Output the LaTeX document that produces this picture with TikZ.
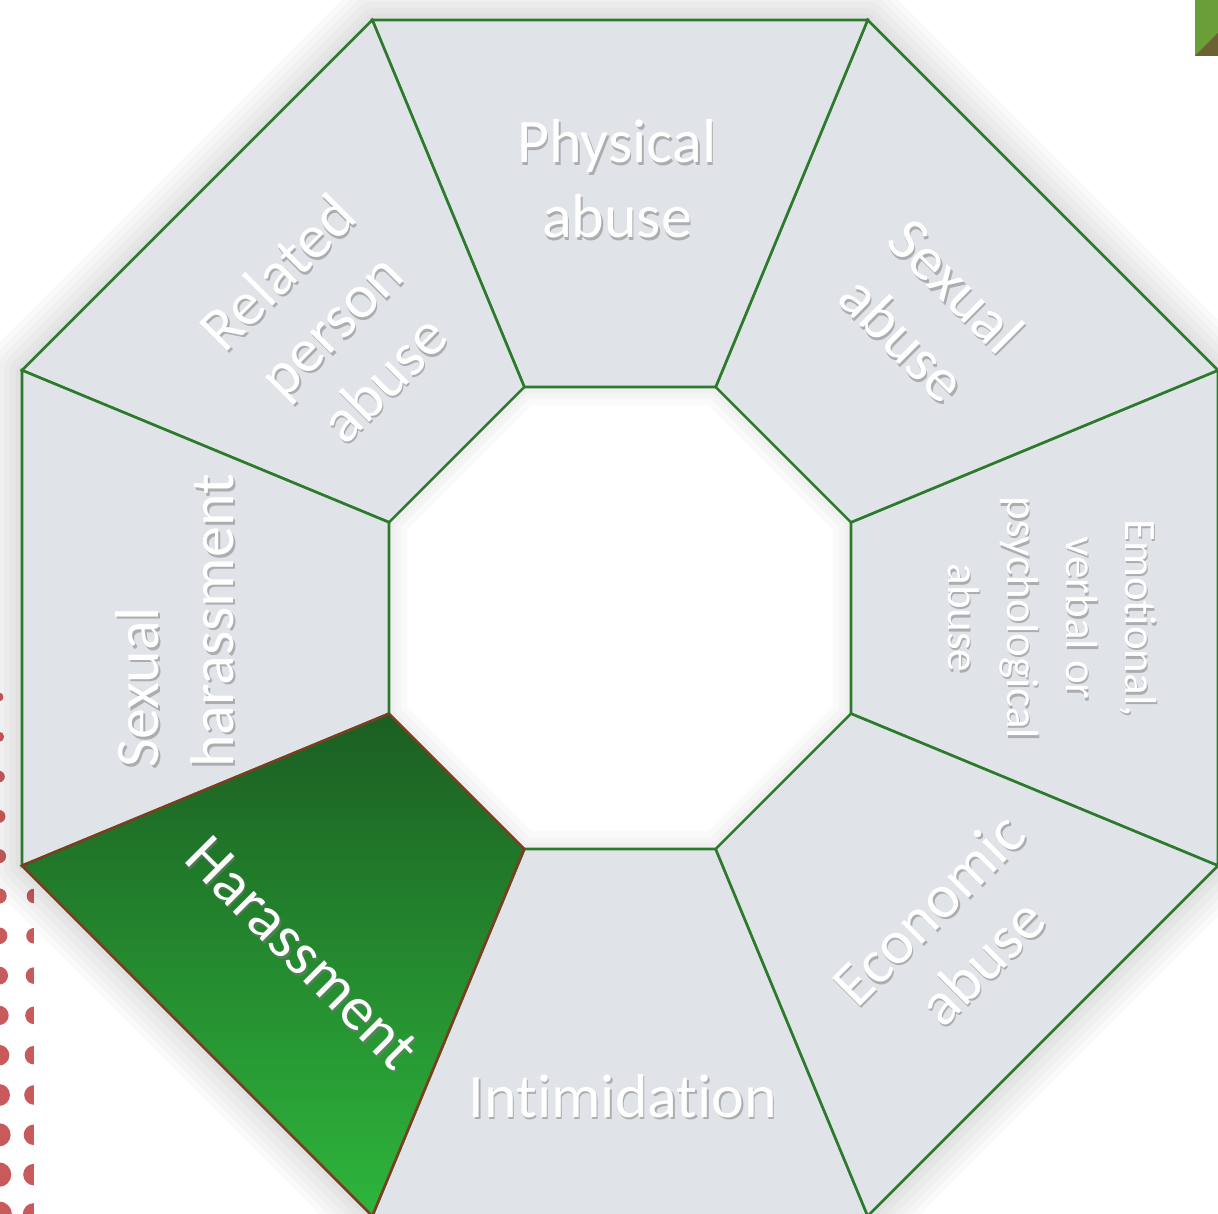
\documentclass[tikz,border=0pt]{standalone}
\usepackage{fontspec}
\setmainfont{Carlito}[Ligatures = {NoCommon, NoContextual}, Contextuals = NoAlternate]
\usetikzlibrary{calc}

\definecolor{segfill}{RGB}{224,227,231}
\definecolor{segline}{RGB}{44,122,44}
\definecolor{harline}{RGB}{122,62,32}
\definecolor{hartop}{RGB}{27,94,34}
\definecolor{harbot}{RGB}{46,182,60}
\definecolor{dotred}{RGB}{201,90,92}
\definecolor{cornergreen}{RGB}{106,158,54}
\definecolor{cornerbrown}{RGB}{107,98,52}
\definecolor{txtshadow}{RGB}{120,120,120}

\tikzset{
	seg/.style = {fill = segfill, draw = segline, line width = 2.6pt, line join = miter},
	glow/.style = {black, line join = round},
	lbl/.style = {text = white, align = center, inner sep = 0pt},
	lblshadow/.style = {text = txtshadow, opacity = .5, align = center, inner sep = 0pt},
}

\newcommand{\Rout}{647.3}
\newcommand{\Rin}{250}
\newcommand{\seglabel}[6][center]{%
	\node (#2-sh) at ($(#3)+(1.5,-2.5)$) [lblshadow, align = #1, rotate = #4, font = #5] {#6};
	\node (#2) at (#3) [lbl, align = #1, rotate = #4, font = #5] {#6};}

\begin{document}
\begin{tikzpicture}[x = 1pt, y = 1pt]
		\useasboundingbox (-620,-596) rectangle (598,618);
		\clip (-620,-596) rectangle (598,618);
		
		\foreach \k in {0,...,13}
			\fill [dotred] (-621,{-79-39.8*\k}) circle ({4.5+0.65*\k});
		\begin{scope}
			\clip (-620,-596) rectangle (-586,-200);
			\foreach \k in {5,...,13}
				\fill [dotred] (-586,{-79-39.8*\k}) circle ({7.3+0.5*(\k-5)});
		\end{scope}
		
		\fill [cornergreen] (575,562) rectangle (598,618);
		\fill [cornerbrown] (575,562) -- (598,562) -- (598,585) -- cycle;
		
		\foreach \w in {72,60,48,36,24,12}
			\draw [glow, opacity = .018, line width = \w pt]
				(22.5:\Rout) -- (67.5:\Rout) -- (112.5:\Rout) -- (157.5:\Rout) -- (202.5:\Rout)
				-- (247.5:\Rout) -- (292.5:\Rout) -- (337.5:\Rout) -- cycle;
		\begin{scope}
			\clip (22.5:\Rin) -- (67.5:\Rin) -- (112.5:\Rin) -- (157.5:\Rin) -- (202.5:\Rin)
				-- (247.5:\Rin) -- (292.5:\Rin) -- (337.5:\Rin) -- cycle;
			\foreach \w in {36,24,12}
				\draw [glow, opacity = .02, line width = \w pt]
					(22.5:\Rin) -- (67.5:\Rin) -- (112.5:\Rin) -- (157.5:\Rin) -- (202.5:\Rin)
					-- (247.5:\Rin) -- (292.5:\Rin) -- (337.5:\Rin) -- cycle;
		\end{scope}
		
		\foreach \a in {0,45,90,135,180,270,315}
			\draw [seg] ({\a-22.5}:\Rout) -- ({\a+22.5}:\Rout) -- ({\a+22.5}:\Rin) -- ({\a-22.5}:\Rin) -- cycle;
		\draw [seg, draw = harline, top color = hartop, bottom color = harbot]
			(202.5:\Rout) -- (247.5:\Rout) -- (247.5:\Rin) -- (202.5:\Rin) -- cycle;
		
		\seglabel{phys}{-3,439}{0}{\fontsize{62}{75}\selectfont}{Physical\\abuse}
		\seglabel{sexab}{310,306}{-45}{\fontsize{62}{75}\selectfont}{Sexual\\abuse}
		\seglabel{emo}{432,0}{-90}{\fontsize{45}{59}\selectfont}{Emotional,\\verbal or\\psychological\\abuse}
		\seglabel{econ}{335,-317}{45}{\fontsize{62}{75}\selectfont}{Economic\\abuse}
		\seglabel{intim}{3,-478}{0}{\fontsize{62}{75}\selectfont}{Intimidation}
		\seglabel{harass}{-318,-335}{-45}{\fontsize{62}{75}\selectfont}{Harassment}
		\seglabel[left]{sexhar}{-445,-3}{90}{\fontsize{62}{75}\selectfont}{Sexual\\harassment}
		\seglabel{relp}{-290,293}{45}{\fontsize{62}{75}\selectfont}{Related\\person\\abuse}
\end{tikzpicture}
\end{document}
